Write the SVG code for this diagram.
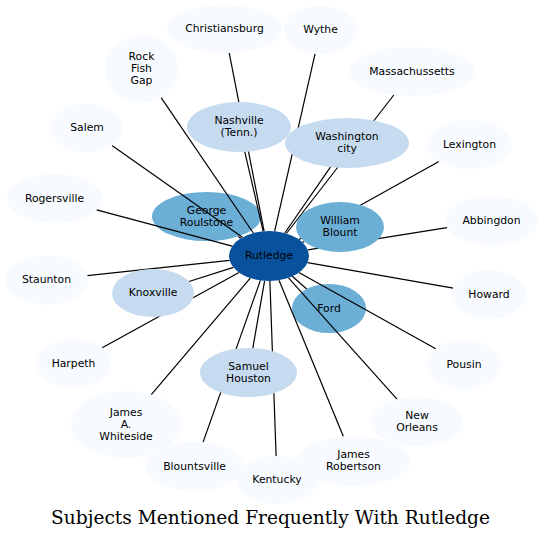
<svg xmlns="http://www.w3.org/2000/svg" width="543" height="540" viewBox="0 0 543 540">
<style>
text{font-family:"DejaVu Sans","Noto Sans",sans-serif;font-size:10.8px;fill:#000;text-anchor:middle}
.l0{fill:#f7fbff}
.l1{fill:#c6dbef}
.l2{fill:#6baed6}
.l3{fill:#08519c}
#edges line{stroke:#000;stroke-width:1.2}
.title{font-family:"DejaVu Serif","Liberation Serif",serif;font-size:18.6px}
</style>
<rect width="543" height="540" fill="#fff"/>
<g id="george-roulstone"><ellipse class="l2" cx="206.5" cy="216.5" rx="54.5" ry="24.5"/><text x="206.5" y="213.5">George</text><text x="206.5" y="225.5">Roulstone</text></g>
<g id="ford"><ellipse class="l2" cx="329" cy="308.5" rx="37" ry="24.5"/><text x="329" y="311.5">Ford</text></g>
<g id="edges">
<line x1="229.2" y1="52.9" x2="264.1" y2="231.2"/>
<line x1="315.1" y1="53.7" x2="274.6" y2="231.3"/>
<line x1="393.8" y1="95" x2="286.4" y2="233.5"/>
<line x1="161.1" y1="97.7" x2="253.3" y2="233"/>
<line x1="112" y1="145.6" x2="242.4" y2="237.3"/>
<line x1="438.9" y1="161.5" x2="298.9" y2="239.4"/>
<line x1="96.6" y1="209.8" x2="232.2" y2="246.1"/>
<line x1="447" y1="227.6" x2="307.8" y2="249.8"/>
<line x1="87.3" y1="275.6" x2="229.6" y2="260.3"/>
<line x1="453.2" y1="288.2" x2="307.5" y2="262.7"/>
<line x1="102.2" y1="347.7" x2="239" y2="272.5"/>
<line x1="435.7" y1="348.7" x2="298.9" y2="272.6"/>
<line x1="151.3" y1="394.7" x2="250.3" y2="278.1"/>
<line x1="397.2" y1="399.4" x2="288.5" y2="277.8"/>
<line x1="203" y1="442.4" x2="260.4" y2="280.4"/>
<line x1="276.1" y1="456" x2="269.9" y2="281"/>
<line x1="343.4" y1="436.4" x2="279" y2="280.2"/>
<line x1="244.8" y1="151.8" x2="263.2" y2="231.3"/>
<line x1="330.4" y1="167.1" x2="284.8" y2="233"/>
<line x1="189" y1="281.5" x2="233.4" y2="267.4"/>
<line x1="252.8" y1="348.1" x2="264.6" y2="280.9"/>
<line x1="238.1" y1="236.5" x2="240.9" y2="238.2"/>
<line x1="304.3" y1="241.6" x2="302.5" y2="242.3"/>
<line x1="306.7" y1="289" x2="292.3" y2="276.3"/>
</g>
<g id="christiansburg"><ellipse class="l0" cx="224.5" cy="29" rx="57.5" ry="24"/><text x="224.5" y="32">Christiansburg</text></g>
<g id="wythe"><ellipse class="l0" cx="320.5" cy="30" rx="36.5" ry="24"/><text x="320.5" y="33">Wythe</text></g>
<g id="massachussetts"><ellipse class="l0" cx="412" cy="71.5" rx="63" ry="24.5"/><text x="412" y="74.5">Massachussetts</text></g>
<g id="rock-fish-gap"><ellipse class="l0" cx="141.5" cy="69" rx="36.5" ry="34"/><text x="141.5" y="60">Rock</text><text x="141.5" y="72">Fish</text><text x="141.5" y="84">Gap</text></g>
<g id="salem"><ellipse class="l0" cx="87" cy="128" rx="36" ry="24.5"/><text x="87" y="131">Salem</text></g>
<g id="lexington"><ellipse class="l0" cx="469.5" cy="144.5" rx="42.5" ry="24.5"/><text x="469.5" y="147.5">Lexington</text></g>
<g id="rogersville"><ellipse class="l0" cx="54.5" cy="198.5" rx="47.5" ry="24.5"/><text x="54.5" y="201.5">Rogersville</text></g>
<g id="abbingdon"><ellipse class="l0" cx="491.5" cy="220.5" rx="46.5" ry="24.5"/><text x="491.5" y="223.5">Abbingdon</text></g>
<g id="staunton"><ellipse class="l0" cx="46.5" cy="280" rx="41.5" ry="24.5"/><text x="46.5" y="283">Staunton</text></g>
<g id="howard"><ellipse class="l0" cx="489" cy="294.5" rx="37" ry="24.5"/><text x="489" y="297.5">Howard</text></g>
<g id="harpeth"><ellipse class="l0" cx="73.5" cy="363.5" rx="37.5" ry="24.5"/><text x="73.5" y="366.5">Harpeth</text></g>
<g id="pousin"><ellipse class="l0" cx="464" cy="364.5" rx="37" ry="24.5"/><text x="464" y="367.5">Pousin</text></g>
<g id="james-a-whiteside"><ellipse class="l0" cx="126" cy="424.5" rx="55" ry="33.5"/><text x="126" y="415.5">James</text><text x="126" y="427.5">A.</text><text x="126" y="439.5">Whiteside</text></g>
<g id="new-orleans"><ellipse class="l0" cx="417" cy="421.5" rx="46" ry="24.5"/><text x="417" y="418.5">New</text><text x="417" y="430.5">Orleans</text></g>
<g id="blountsville"><ellipse class="l0" cx="194.5" cy="466.5" rx="48.5" ry="24.5"/><text x="194.5" y="469.5">Blountsville</text></g>
<g id="james-robertson"><ellipse class="l0" cx="353.5" cy="461" rx="56.5" ry="25"/><text x="353.5" y="458">James</text><text x="353.5" y="470">Robertson</text></g>
<g id="kentucky"><ellipse class="l0" cx="277" cy="480" rx="41" ry="24"/><text x="277" y="483">Kentucky</text></g>
<g id="nashville"><ellipse class="l1" cx="239" cy="127" rx="52" ry="25"/><text x="239" y="124">Nashville</text><text x="239" y="136">(Tenn.)</text></g>
<g id="washington-city"><ellipse class="l1" cx="347" cy="143" rx="62" ry="25"/><text x="347" y="140">Washington</text><text x="347" y="152">city</text></g>
<g id="knoxville"><ellipse class="l1" cx="153" cy="293" rx="41" ry="24"/><text x="153" y="296">Knoxville</text></g>
<g id="samuel-houston"><ellipse class="l1" cx="248.5" cy="372.5" rx="48.5" ry="24.5"/><text x="248.5" y="369.5">Samuel</text><text x="248.5" y="381.5">Houston</text></g>
<g id="william-blount"><ellipse class="l2" cx="340" cy="227" rx="44" ry="25"/><text x="340" y="224">William</text><text x="340" y="236">Blount</text></g>
<g id="rutledge"><ellipse class="l3" cx="269" cy="256" rx="40" ry="25"/><text x="269" y="259">Rutledge</text></g>
<text class="title" x="270.5" y="523.5">Subjects Mentioned Frequently With Rutledge</text>
</svg>
